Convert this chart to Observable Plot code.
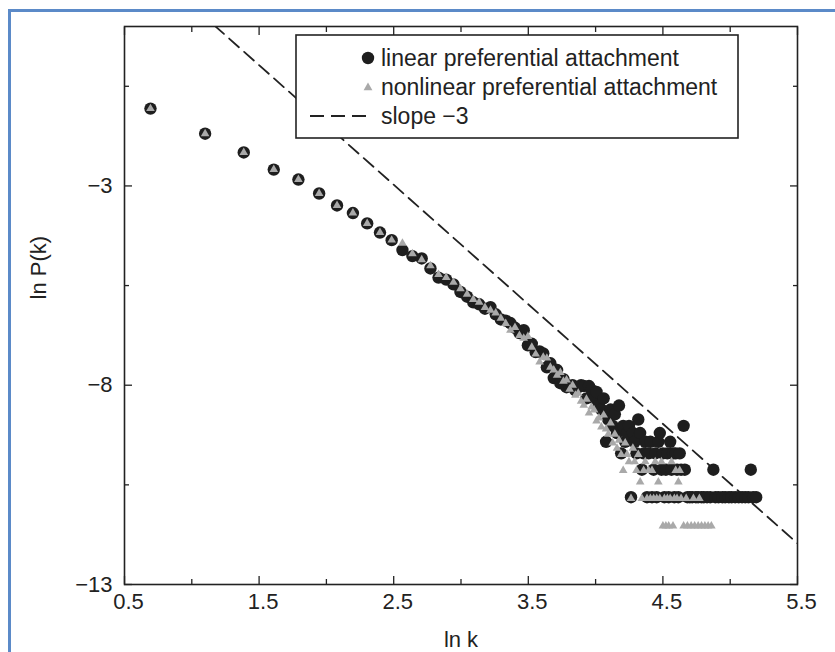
<!DOCTYPE html>
<html>
<head>
<meta charset="utf-8">
<script src="https://cdn.jsdelivr.net/npm/d3@7"></script>
<script src="https://cdn.jsdelivr.net/npm/@observablehq/plot@0.6"></script>
<style>
  body { margin: 0; background: #fff; }
  #wrap { position: relative; width: 835px; height: 652px; overflow: hidden; font-family: "Liberation Sans", Arial, sans-serif; background:#fff; }
  #border { position: absolute; left: 8px; top: 9px; width: 840px; height: 700px; border-top: 3px solid #5b8ac8; border-left: 3px solid #5b8ac8; pointer-events: none; }
  #legend { position: absolute; left: 0; top: 0; }
</style>
</head>
<body>
<div id="wrap">
  <div id="chart"></div>
  <svg id="legend" width="835" height="652" font-family="Liberation Sans, Arial, sans-serif">
    <rect x="296" y="35" width="442" height="103" fill="#fff" stroke="#222" stroke-width="1.6"/>
    <circle cx="368" cy="58" r="6.2" fill="#1e1e1e"/>
    <path d="M368,82.6 L372.4,90.2 L363.6,90.2 Z" fill="#a9a9a9"/>
    <line x1="310" x2="366" y1="116" y2="116" stroke="#222" stroke-width="1.8" stroke-dasharray="14,7"/>
    <text x="381" y="66" font-size="23" fill="#222">linear preferential attachment</text>
    <text x="381" y="95" font-size="23" fill="#222">nonlinear preferential attachment</text>
    <text x="381" y="124" font-size="23" fill="#222">slope −3</text>
  </svg>
  <div id="border"></div>
</div>
<script>
// ---- data (ln k, ln P(k)) ----
const linearLnK = [0.693,1.099,1.386,1.609,1.792,1.946,2.079,2.197,2.303,2.398,2.485,2.565,2.639,2.708,2.773,2.833,2.890,2.944,2.996,3.045,
  3.091,3.135,3.178,3.219,3.258,3.296,3.332,3.367,3.401,3.434,3.466,3.497,3.526,3.555,3.584,3.611,3.638,3.664,3.689,3.714,
  3.738,3.761,3.784,3.807,3.829,3.850,3.871,3.892,3.912,3.932,3.951,3.970,3.989,4.007,4.025,4.043,4.060,4.078,4.094,4.111,
  4.127,4.143,4.159,4.174,4.190,4.205,4.220,4.234,4.248,4.263,4.277,4.290,4.304,4.317,4.331,4.344,4.357,4.369,4.382,4.394,
  4.407,4.419,4.431,4.443,4.454,4.466,4.477,4.489,4.500,4.511,4.522,4.533,4.543,4.554,4.564,4.575,4.585,4.595,4.605,4.615,
  4.625,4.635,4.654,4.663,4.682,4.700,4.718,4.745,4.762,4.787,4.804,4.828,4.852,4.875,4.890,4.913,4.942,4.963,4.990,5.011,
  5.037,5.063,5.088,5.112,5.136,5.153,5.170,5.193];
const linearLnP = [-1.06,-1.69,-2.16,-2.59,-2.84,-3.19,-3.49,-3.68,-3.94,-4.17,-4.36,-4.61,-4.76,-4.82,-5.07,-5.30,-5.35,-5.47,-5.66,-5.78,
  -5.92,-5.97,-6.08,-6.04,-6.22,-6.35,-6.38,-6.44,-6.56,-6.69,-6.62,-7.00,-6.96,-7.17,-7.15,-7.20,-7.55,-7.45,-7.82,-7.62,
  -7.95,-7.85,-8.05,-8.02,-8.00,-8.13,-8.05,-8.00,-8.02,-8.33,-8.02,-8.12,-8.33,-8.17,-8.51,-8.61,-8.33,-9.42,-8.86,-8.61,
  -9.02,-8.73,-9.20,-8.51,-9.71,-9.02,-9.42,-9.20,-9.02,-10.81,-9.20,-9.42,-9.71,-8.86,-9.20,-10.12,-9.71,-9.42,-10.81,-9.71,
  -9.42,-10.81,-10.12,-9.71,-10.81,-9.42,-9.20,-10.12,-9.71,-10.81,-10.12,-9.71,-10.81,-9.42,-10.12,-9.71,-10.81,-9.71,-10.12,-10.81,
  -9.71,-10.12,-9.02,-10.12,-10.81,-10.81,-10.81,-10.81,-10.81,-10.81,-10.81,-10.81,-10.81,-10.12,-10.81,-10.81,-10.81,-10.81,-10.81,-10.81,
  -10.81,-10.81,-10.81,-10.81,-10.81,-10.12,-10.81,-10.81];

const nonlinearLnK = [0.693,1.099,1.386,1.609,1.792,1.946,2.079,2.197,2.303,2.398,2.485,2.565,2.639,2.708,2.773,2.833,2.890,2.944,2.996,3.045,
  3.091,3.135,3.178,3.219,3.258,3.296,3.332,3.367,3.401,3.434,3.466,3.497,3.526,3.555,3.584,3.611,3.638,3.664,3.689,3.714,
  3.738,3.761,3.784,3.807,3.829,3.850,3.871,3.892,3.912,3.932,3.951,3.970,3.989,4.007,4.025,4.043,4.060,4.078,4.094,4.111,
  4.127,4.143,4.159,4.174,4.190,4.205,4.220,4.234,4.248,4.263,4.277,4.290,4.304,4.317,4.331,4.344,4.357,4.369,4.382,4.394,
  4.407,4.419,4.431,4.443,4.454,4.466,4.477,4.489,4.500,4.511,4.522,4.533,4.543,4.554,4.564,4.575,4.585,4.595,4.605,4.615,
  4.625,4.635,4.654,4.673,4.682,4.710,4.727,4.736,4.762,4.771,4.787,4.812,4.836,4.860];
const nonlinearLnP = [-1.06,-1.69,-2.16,-2.59,-2.84,-3.19,-3.49,-3.68,-3.94,-4.17,-4.36,-4.44,-4.70,-4.85,-5.00,-5.22,-5.30,-5.42,-5.58,-5.72,
  -5.85,-5.92,-6.05,-6.12,-6.19,-6.32,-6.45,-6.62,-6.55,-6.75,-6.82,-6.78,-7.05,-7.22,-7.42,-7.30,-7.32,-7.55,-7.62,-7.75,
  -7.68,-7.90,-7.87,-8.10,-8.00,-8.25,-8.20,-8.40,-8.50,-8.35,-8.70,-8.55,-8.62,-8.90,-8.82,-9.05,-8.75,-9.10,-9.23,-8.95,
  -9.45,-9.23,-9.58,-9.38,-9.74,-10.14,-9.45,-9.74,-9.92,-10.84,-9.58,-9.92,-10.14,-9.74,-10.43,-10.84,-10.14,-9.92,-10.84,-10.14,
  -10.84,-10.14,-10.84,-9.92,-10.84,-10.43,-10.84,-9.92,-11.53,-10.84,-11.53,-10.84,-11.53,-10.84,-9.92,-11.53,-10.84,-10.14,-10.84,-10.43,
  -10.14,-10.84,-11.53,-10.84,-11.53,-11.53,-10.84,-11.53,-11.53,-10.84,-11.53,-11.53,-11.53,-11.53];

const slope = -3;
const slopeIntercept = 4.53;

const xDomain = [0.5, 5.5];
const yDomain = [-13, 1];
const xMajor = [0.5, 1.5, 2.5, 3.5, 4.5, 5.5];
const xMinor = [1, 2, 3, 4, 5];
const yMajor = [-3, -8, -13];
const yMinor = [-0.5, -5.5, -10.5];
const xTitle = "ln k";
const yTitle = "ln P(k)";

// ---- build tables ----
const linear = linearLnK.map((x, i) => ({x, y: linearLnP[i]}));
const nonlinear = nonlinearLnK.map((x, i) => ({x, y: nonlinearLnP[i]}));
const slopeRows = xDomain.map(x => ({x, y: slopeIntercept + slope * x}));

const fmtY = d => (d < 0 ? "\u2212" : "") + Math.abs(d);
const blank = () => "";
const tickOpts = {tickFormat: blank, label: null, stroke: "#222", strokeWidth: 1.3};

const chart = Plot.plot({
  width: 835,
  height: 652,
  marginLeft: 124,
  marginRight: 38,
  marginTop: 26,
  marginBottom: 68,
  style: {fontFamily: "Liberation Sans, Arial, sans-serif", fontSize: "22px", color: "#222", background: "transparent"},
  x: {domain: xDomain},
  y: {domain: yDomain},
  marks: [
    Plot.line(slopeRows, {x: "x", y: "y", stroke: "#222", strokeWidth: 1.8, strokeDasharray: "13,7", clip: true}),
    Plot.dot(linear, {x: "x", y: "y", r: 6.2, fill: "#1e1e1e", stroke: "none"}),
    Plot.dot(nonlinear, {x: "x", y: "y", r: 3.2, symbol: "triangle", fill: "#a9a9a9", stroke: "none"}),
    Plot.frame({stroke: "#222", strokeWidth: 1.6}),
    Plot.axisX({ticks: xMajor, anchor: "bottom", tickSize: 0, tickPadding: 9, fontSize: 22, dx: 4, tickFormat: d => d.toFixed(1),
      label: xTitle, labelAnchor: "center", labelOffset: 62, labelArrow: "none"}),
    Plot.axisX({ticks: xMajor, anchor: "bottom", tickSize: -8, ...tickOpts}),
    Plot.axisX({ticks: xMinor, anchor: "bottom", tickSize: -5, ...tickOpts}),
    Plot.axisX({ticks: xMajor, anchor: "top", tickSize: -8, ...tickOpts}),
    Plot.axisX({ticks: xMinor, anchor: "top", tickSize: -5, ...tickOpts}),
    Plot.axisY({ticks: yMajor, anchor: "left", tickSize: 0, tickPadding: 12, fontSize: 22, tickFormat: fmtY, label: null}),
    Plot.text([yTitle], {frameAnchor: "left", rotate: -90, dx: -86, dy: -6, fontSize: 22, fill: "#222"}),
    Plot.axisY({ticks: yMajor, anchor: "left", tickSize: -8, ...tickOpts}),
    Plot.axisY({ticks: yMinor, anchor: "left", tickSize: -5, ...tickOpts}),
    Plot.axisY({ticks: yMajor, anchor: "right", tickSize: -8, ...tickOpts}),
    Plot.axisY({ticks: yMinor, anchor: "right", tickSize: -5, ...tickOpts})
  ]
});
document.getElementById("chart").appendChild(chart);
</script>
</body>
</html>
